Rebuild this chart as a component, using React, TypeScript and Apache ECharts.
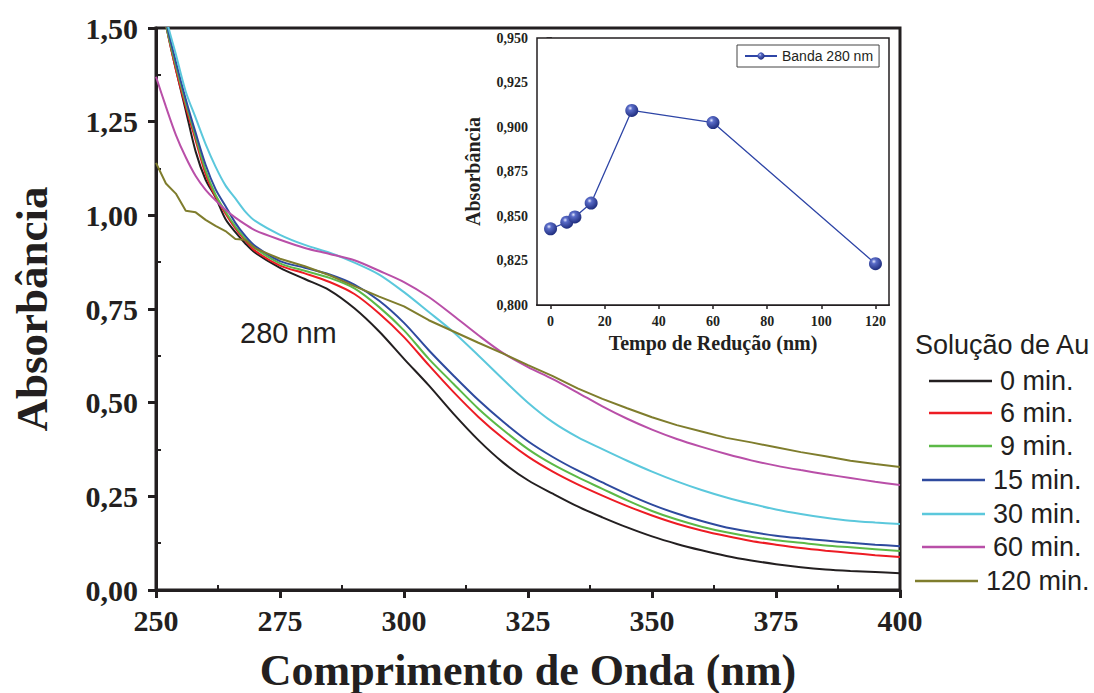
import React, { useEffect, useRef } from "react";
import * as echarts from "echarts";

// ---------- data ----------
const wavelengths = [250, 252, 254, 256, 258, 260, 262, 264, 266, 268, 270, 275, 280, 285, 290, 295, 300, 305, 310, 315, 320, 325, 330, 335, 340, 345, 350, 355, 360, 365, 370, 375, 380, 385, 390, 395, 400];

const min0 = [1.66, 1.51, 1.39, 1.28, 1.17, 1.095, 1.048, 0.99, 0.955, 0.925, 0.9, 0.86, 0.83, 0.8, 0.752, 0.69, 0.617, 0.546, 0.47, 0.4, 0.34, 0.293, 0.257, 0.223, 0.194, 0.167, 0.143, 0.123, 0.106, 0.091, 0.079, 0.069, 0.061, 0.055, 0.051, 0.048, 0.045];
const min6 = [1.66, 1.51, 1.39, 1.29, 1.2, 1.11, 1.05, 1.005, 0.965, 0.933, 0.905, 0.866, 0.845, 0.822, 0.79, 0.738, 0.675, 0.6, 0.528, 0.462, 0.405, 0.356, 0.316, 0.282, 0.252, 0.224, 0.199, 0.177, 0.159, 0.144, 0.131, 0.121, 0.112, 0.105, 0.099, 0.093, 0.088];
const min9 = [1.66, 1.51, 1.4, 1.3, 1.21, 1.12, 1.055, 1.01, 0.97, 0.938, 0.912, 0.872, 0.852, 0.833, 0.805, 0.755, 0.693, 0.617, 0.55, 0.484, 0.427, 0.376, 0.335, 0.301, 0.27, 0.239, 0.211, 0.188, 0.169, 0.154, 0.142, 0.133, 0.126, 0.119, 0.114, 0.109, 0.104];
const min15 = [1.68, 1.52, 1.41, 1.31, 1.22, 1.135, 1.07, 1.025, 0.98, 0.945, 0.918, 0.878, 0.86, 0.842, 0.815, 0.772, 0.713, 0.64, 0.572, 0.507, 0.449, 0.397, 0.355, 0.319, 0.287, 0.256, 0.228, 0.204, 0.184, 0.167, 0.155, 0.145, 0.138, 0.132, 0.126, 0.121, 0.117];
const min30 = [1.7, 1.53, 1.43, 1.33, 1.26, 1.19, 1.13, 1.08, 1.045, 1.01, 0.985, 0.948, 0.921, 0.9, 0.874, 0.842, 0.795, 0.742, 0.688, 0.626, 0.562, 0.5, 0.448, 0.408, 0.376, 0.345, 0.316, 0.29, 0.267, 0.247, 0.23, 0.215, 0.203, 0.193, 0.185, 0.18, 0.176];
const min60 = [1.37, 1.29, 1.215, 1.155, 1.105, 1.068, 1.04, 1.015, 0.994, 0.976, 0.96, 0.935, 0.913, 0.897, 0.88, 0.852, 0.822, 0.782, 0.732, 0.68, 0.632, 0.595, 0.563, 0.527, 0.49, 0.457, 0.428, 0.403, 0.382, 0.363, 0.346, 0.332, 0.32, 0.309, 0.299, 0.289, 0.28];
const min120 = [1.14, 1.085, 1.058, 1.012, 1.008, 0.988, 0.972, 0.958, 0.937, 0.935, 0.912, 0.884, 0.864, 0.84, 0.811, 0.783, 0.757, 0.72, 0.69, 0.66, 0.631, 0.6, 0.571, 0.538, 0.51, 0.485, 0.461, 0.44, 0.423, 0.406, 0.394, 0.381, 0.368, 0.357, 0.345, 0.336, 0.328];

const seriesNames = ["0 min.", "6 min.", "9 min.", "15 min.", "30 min.", "60 min.", "120 min."];
const seriesValues = [min0, min6, min9, min15, min30, min60, min120];
const seriesColors = ["#231f20", "#ed1c24", "#5cb947", "#2e4a9e", "#5bc8dc", "#b94fa8", "#7f7d2d"];

const xTicks = [250, 275, 300, 325, 350, 375, 400];
const yTicks = [0, 0.25, 0.5, 0.75, 1.0, 1.25, 1.5];

const insetTimes = [0, 6, 9, 15, 30, 60, 120];
const insetValues = [0.8428, 0.8465, 0.8495, 0.8573, 0.9093, 0.9025, 0.8232];
const insetXTicks = [0, 20, 40, 60, 80, 100, 120];
const insetXMinor = [10, 30, 50, 70, 90, 110];

// ---------- layout ----------
const legendLeft = [929, 929, 929, 922, 922, 922, 915];
const legendCenterY = [381, 413, 446, 480, 514, 547, 581];

const INK = "#231f20";
const SERIF = "'Liberation Serif', 'Times New Roman', serif";
const SANS = "'Liberation Sans', Arial, sans-serif";

const comma = (v: number, d: number) => v.toFixed(d).replace(".", ",");

export default function App() {
  const ref = useRef<HTMLDivElement>(null);

  useEffect(() => {
    if (!ref.current) return;
    const chart = echarts.init(ref.current, null, { renderer: "svg" });

    const mainMinorX: number[] = [];
    for (let i = 0; i < xTicks.length - 1; i++) mainMinorX.push((xTicks[i] + xTicks[i + 1]) / 2);
    const mainMinorY: number[] = [];
    for (let i = 0; i < yTicks.length - 1; i++) mainMinorY.push((yTicks[i] + yTicks[i + 1]) / 2);
    const insetYMinor: number[] = [];
    for (let i = 0; i < 6; i++) insetYMinor.push(0.8125 + i * 0.025);

    const sphere = {
      type: "radial",
      x: 0.38,
      y: 0.33,
      r: 0.7,
      colorStops: [
        { offset: 0, color: "#e4e8ff" },
        { offset: 0.25, color: "#5a6cc8" },
        { offset: 1, color: "#1c2a7a" },
      ],
    };

    const mainSeries = seriesNames.map((name, i) => ({
      name,
      type: "line",
      xAxisIndex: 0,
      yAxisIndex: 0,
      data: wavelengths.map((w, j) => [w, seriesValues[i][j]]),
      symbol: "none",
      smooth: i === 6 ? false : 0.3,
      clip: true,
      lineStyle: { color: seriesColors[i], width: 2 },
      itemStyle: { color: seriesColors[i] },
      z: 3,
    }));

    const legends: any[] = seriesNames.map((name, i) => ({
      data: [{ name, icon: "rect" }],
      left: legendLeft[i],
      top: legendCenterY[i] - 15,
      padding: 0,
      itemWidth: 63,
      itemHeight: 2.5,
      selectedMode: false,
      textStyle: {
        fontSize: 27,
        fontFamily: SANS,
        color: INK,
        lineHeight: 30,
        padding: [0, 0, 0, 3],
      },
    }));
    legends.push({
      data: ["Banda 280 nm"],
      left: 737,
      top: 45,
      padding: [3, 6, 3, 7],
      borderColor: "#444",
      borderWidth: 1,
      itemWidth: 32,
      itemHeight: 9,
      selectedMode: false,
      textStyle: { fontSize: 14, fontFamily: SANS, color: INK, lineHeight: 16 },
    });

    const option: any = {
      animation: false,
      backgroundColor: "#ffffff",
      grid: [
        { left: 156, right: 194, top: 28, bottom: 103, outerBoundsMode: "none", containLabel: false, show: true, borderColor: INK, borderWidth: 3, backgroundColor: "transparent" },
        { left: 537, right: 205, top: 38, bottom: 388, outerBoundsMode: "none", containLabel: false, show: true, borderColor: INK, borderWidth: 1.5, backgroundColor: "#ffffff", z: 4 },
      ],
      xAxis: [
        {
          type: "value", gridIndex: 0, position: "bottom", min: 250, max: 400, interval: 25,
          axisLine: { show: true, lineStyle: { color: INK, width: 3 } },
          axisTick: { show: true, inside: false, length: 8, lineStyle: { color: INK, width: 3 } },
          axisLabel: { show: true, margin: 15, fontSize: 30, fontWeight: "bold", fontFamily: SERIF, color: INK },
          splitLine: { show: false },
          name: "Comprimento de Onda (nm)", nameLocation: "middle", nameGap: 58,
          nameTextStyle: { fontSize: 44, fontWeight: "bold", fontFamily: SERIF, color: INK },
        },
        {
          type: "value", gridIndex: 0, position: "bottom", min: 250, max: 400,
          axisLine: { show: false },
          axisTick: { show: true, inside: true, length: 5, customValues: mainMinorX, lineStyle: { color: INK, width: 2 } },
          axisLabel: { show: false },
          splitLine: { show: false },
        },
        {
          type: "value", gridIndex: 1, position: "bottom", min: -5, max: 125,
          axisLine: { show: true, lineStyle: { color: INK, width: 2 } },
          axisTick: { show: true, inside: false, length: 4, customValues: insetXTicks, lineStyle: { color: INK, width: 1.5 } },
          axisLabel: { show: true, margin: 9, customValues: insetXTicks, fontSize: 14, fontWeight: "bold", fontFamily: SERIF, color: INK },
          splitLine: { show: false },
          name: "Tempo de Redução (nm)", nameLocation: "middle", nameGap: 28,
          nameTextStyle: { fontSize: 20, fontWeight: "bold", fontFamily: SERIF, color: INK },
        },
        {
          type: "value", gridIndex: 1, position: "bottom", min: -5, max: 125,
          axisLine: { show: false },
          axisTick: { show: true, inside: true, length: 3, customValues: insetXMinor, lineStyle: { color: INK, width: 1 } },
          axisLabel: { show: false },
          splitLine: { show: false },
        },
      ],
      yAxis: [
        {
          type: "value", gridIndex: 0, position: "left", min: 0, max: 1.5, interval: 0.25,
          axisLine: { show: true, lineStyle: { color: INK, width: 3 } },
          axisTick: { show: true, inside: false, length: 8, lineStyle: { color: INK, width: 3 } },
          axisLabel: { show: true, margin: 18, fontSize: 30, fontWeight: "bold", fontFamily: SERIF, color: INK, formatter: (v: number) => comma(v, 2) },
          splitLine: { show: false },
          name: "Absorbância", nameLocation: "middle", nameGap: 102, nameRotate: 90,
          nameTextStyle: { fontSize: 45, fontWeight: "bold", fontFamily: SERIF, color: INK },
        },
        {
          type: "value", gridIndex: 0, position: "left", min: 0, max: 1.5,
          axisLine: { show: false },
          axisTick: { show: true, inside: true, length: 5, customValues: mainMinorY, lineStyle: { color: INK, width: 2 } },
          axisLabel: { show: false },
          splitLine: { show: false },
        },
        {
          type: "value", gridIndex: 1, position: "left", min: 0.8, max: 0.95, interval: 0.025,
          axisLine: { show: true, lineStyle: { color: INK, width: 2 } },
          axisTick: { show: true, inside: false, length: 4, lineStyle: { color: INK, width: 1.5 } },
          axisLabel: { show: true, margin: 9, fontSize: 14, fontWeight: "bold", fontFamily: SERIF, color: INK, formatter: (v: number) => comma(v, 3) },
          splitLine: { show: false },
          name: "Absorbância", nameLocation: "middle", nameGap: 54, nameRotate: 90,
          nameTextStyle: { fontSize: 20, fontWeight: "bold", fontFamily: SERIF, color: INK },
        },
        {
          type: "value", gridIndex: 1, position: "left", min: 0.8, max: 0.95,
          axisLine: { show: false },
          axisTick: { show: true, inside: true, length: 3, customValues: insetYMinor, lineStyle: { color: INK, width: 1 } },
          axisLabel: { show: false },
          splitLine: { show: false },
        },
      ],
      legend: legends,
      series: [
        ...mainSeries,
        {
          name: "Banda 280 nm",
          type: "line",
          xAxisIndex: 2,
          yAxisIndex: 2,
          data: insetTimes.map((t, i) => [t, insetValues[i]]),
          symbol: "circle",
          symbolSize: 13,
          lineStyle: { color: "#2e45a6", width: 1.3 },
          itemStyle: { color: sphere, borderWidth: 0 },
          z: 6,
        },
      ],
      graphic: [
        {
          type: "text", left: 240, top: 318, z: 10,
          style: { text: "280 nm", fontSize: 29, fontFamily: SANS, fill: INK },
        },
        {
          type: "text", left: 915, top: 331, z: 10,
          style: { text: "Solução de Au", fontSize: 27, fontFamily: SANS, fill: INK },
        },
      ],
    };

    chart.setOption(option);
    return () => chart.dispose();
  }, []);

  return (
    <div
      ref={ref}
      style={{ position: "fixed", left: 0, top: 0, width: 1094, height: 693, background: "#fff" }}
    />
  );
}
